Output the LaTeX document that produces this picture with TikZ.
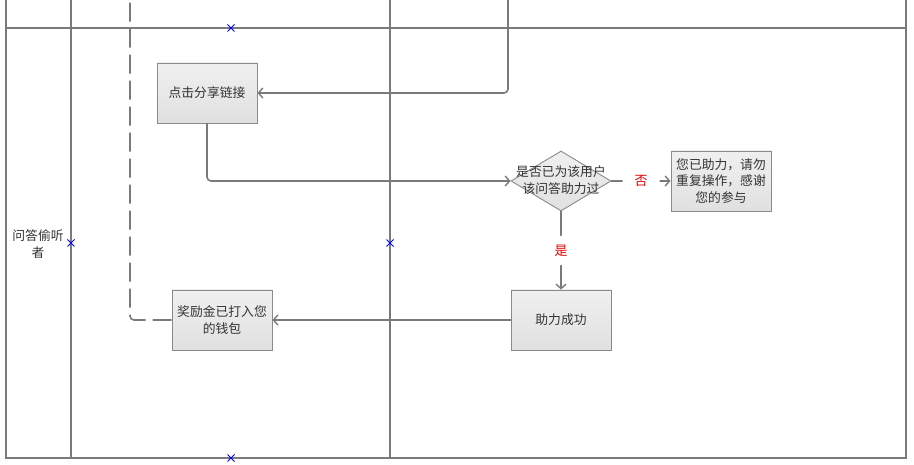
\documentclass[tikz,border=0pt]{standalone}
\usepackage{fontspec}
\setmainfont{Noto Sans CJK SC}
\usetikzlibrary{shapes.geometric,arrows.meta}
\definecolor{lanec}{HTML}{7A7A7A}
\definecolor{boxb}{HTML}{8A8A8A}
\definecolor{txtc}{HTML}{333333}
\tikzset{
  lane/.style={draw=lanec, line width=1.6pt},
  procbox/.style={draw=boxb, line width=0.9pt, top color=white!94!black, bottom color=white!88!black,
    minimum width=100pt, minimum height=60pt, inner sep=0pt, text=txtc, align=center,
    font=\fontsize{12.8}{16.5}\selectfont},
  decbox/.style={diamond, draw=boxb, line width=0.9pt, top color=white!94!black, bottom color=white!88!black,
    minimum width=100pt, minimum height=60pt, inner sep=0pt},
  txt/.style={text=txtc, align=center, font=\fontsize{12.8}{16.5}\selectfont, inner sep=0pt},
  conn/.style={draw=lanec, line width=1.6pt, rounded corners=4pt, -{Straight Barb[length=4.5pt,width=10pt,line width=1.4pt]}},
  dashconn/.style={draw=lanec, line width=1.6pt, rounded corners=4pt, dash pattern=on 19pt off 7pt},
  lbl/.style={text=red!90!black, fill=white, font=\fontsize{13}{15}\selectfont, inner xsep=12pt, inner ysep=9pt},
  xmark/.style={draw=blue, line width=0.8pt},
}
\begin{document}
\begin{tikzpicture}[x=1pt,y=-1pt]
\useasboundingbox (0,0) rectangle (914,465);
% lanes
\draw[lane] (6,0) -- (6,458) -- (906,458) -- (906,0);
\draw[lane] (6,28) -- (906,28);
\draw[lane] (71,0) -- (71,458);
\draw[lane] (390,0) -- (390,458);
% lane label
\node[txt] (lanelbl) at (38,244) {问答偷听\\者};
% nodes
\node[procbox] (b1) at (207,93) {点击分享链接};
\node[decbox] (d) at (561,181) {};
\node[txt] (dt) at (561,180) {是否已为该用户\\该问答助力过};
\node[procbox] (b2) at (721,181) {您已助力，请勿\\重复操作，感谢\\您的参与};
\node[procbox] (b3) at (561,320) {助力成功};
\node[procbox] (b4) at (222,320) {奖励金已打入您\\的钱包};
\coordinate (t1) at (508,0);
\coordinate (t2) at (130,0);
% connectors
\draw[conn] (t1) |- (b1.east);
\draw[conn] (b1.south) |- (d.west);
\draw[conn] (d.east) -- node[lbl] (no) {否} (b2.west);
\draw[conn] (d.south) -- node[lbl] (yes) {是} (b3.north);
\draw[conn] (b3.west) -- (b4.east);
\draw[dashconn] (b4.west) -| (t2);
% blue markers
\foreach \mx/\my in {231/28, 71/243, 390/243, 231/458}{
  \draw[xmark] (\mx-3.5,\my-3.5) -- (\mx+3.5,\my+3.5) (\mx-3.5,\my+3.5) -- (\mx+3.5,\my-3.5);
}
\end{tikzpicture}
\end{document}
